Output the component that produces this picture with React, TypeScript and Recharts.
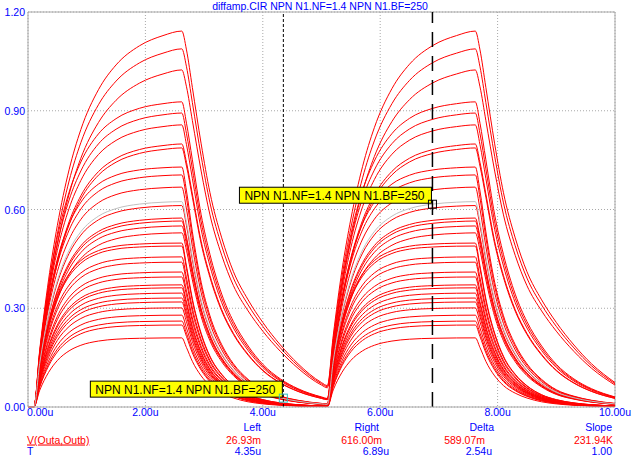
import { LineChart, Line, XAxis, YAxis, CartesianGrid, ReferenceLine, ReferenceDot } from "recharts";

// sample times (us)
const TIME = [
  0, 0.1, 0.2, 0.35, 0.5, 0.7, 0.9, 1.2, 1.5, 1.9, 2.3, 2.62,
  2.7, 2.8, 2.95, 3.1, 3.3, 3.5, 3.75, 4.0, 4.3, 4.6, 5.0, 5.1,
  5.2, 5.35, 5.5, 5.7, 5.9, 6.2, 6.5, 6.9, 7.3, 7.62,
  7.7, 7.8, 7.95, 8.1, 8.3, 8.5, 8.75, 9.0, 9.3, 9.6, 10.0,
];

// waveform shapes relative to the end-of-pulse level
const SHAPE_SLOW = [
  0, 0, 0.152, 0.338, 0.483, 0.631, 0.738, 0.844, 0.91, 0.961, 0.988, 1.0,
  0.95, 0.85, 0.7, 0.57, 0.45, 0.36, 0.285, 0.225, 0.165, 0.115, 0.065, 0.057,
  0.19, 0.365, 0.5, 0.64, 0.743, 0.847, 0.912, 0.962, 0.988, 1.0,
  0.95, 0.85, 0.7, 0.57, 0.45, 0.36, 0.285, 0.225, 0.165, 0.115, 0.065,
];
const SHAPE_MID = [
  0, 0, 0.182, 0.396, 0.555, 0.704, 0.803, 0.895, 0.945, 0.979, 0.994, 1.0,
  0.93, 0.81, 0.63, 0.5, 0.37, 0.28, 0.2, 0.14, 0.092, 0.06, 0.033, 0.028,
  0.205, 0.41, 0.565, 0.71, 0.806, 0.896, 0.946, 0.979, 0.994, 1.0,
  0.93, 0.81, 0.63, 0.5, 0.37, 0.28, 0.2, 0.14, 0.092, 0.06, 0.033,
];
const SHAPE_FAST = [
  0, 0, 0.213, 0.45, 0.616, 0.762, 0.853, 0.929, 0.966, 0.988, 0.997, 1.0,
  0.9, 0.73, 0.52, 0.38, 0.26, 0.18, 0.115, 0.072, 0.045, 0.028, 0.015, 0.013,
  0.223, 0.457, 0.62, 0.764, 0.854, 0.929, 0.966, 0.988, 0.997, 1.0,
  0.9, 0.73, 0.52, 0.38, 0.26, 0.18, 0.115, 0.072, 0.045, 0.028, 0.015,
];
const SHAPE_QUICK = [
  0, 0, 0.243, 0.5, 0.672, 0.812, 0.893, 0.954, 0.981, 0.994, 0.999, 1.0,
  0.86, 0.66, 0.45, 0.31, 0.2, 0.13, 0.075, 0.045, 0.025, 0.014, 0.007, 0.006,
  0.247, 0.503, 0.674, 0.813, 0.893, 0.954, 0.981, 0.994, 0.999, 1.0,
  0.86, 0.66, 0.45, 0.31, 0.2, 0.13, 0.075, 0.045, 0.025, 0.014, 0.007,
];

// end-of-pulse levels (V) of the stepped runs
const LEVELS_SLOW = [1.142, 1.088, 1.024];
const LEVELS_MID = [0.927, 0.893, 0.857, 0.799, 0.787];
const LEVELS_FAST = [0.729, 0.705, 0.668, 0.612, 0.574, 0.565, 0.55, 0.529];
const LEVELS_QUICK = [
  0.498, 0.489, 0.456, 0.44, 0.41, 0.395, 0.371, 0.362, 0.346, 0.331,
  0.319, 0.301, 0.279, 0.261, 0.249, 0.21,
];
const SELECTED_LEVEL = 0.624;

const X_TICKS = [0, 2, 4, 6, 8, 10];
const X_LABELS = ["0.00u", "2.00u", "4.00u", "6.00u", "8.00u", "10.00u"];
const Y_TICKS = [0, 0.3, 0.6, 0.9, 1.2];
const Y_LABELS = ["0.00", "0.30", "0.60", "0.90", "1.20"];

const LEFT_CURSOR = { t: 4.35, v: 0.02693 };
const RIGHT_CURSOR = { t: 6.89, v: 0.616 };
const TAG_TEXT = "NPN N1.NF=1.4 NPN N1.BF=250";

const series = [
  ...LEVELS_SLOW.map((level) => ({ level, shape: SHAPE_SLOW })),
  ...LEVELS_MID.map((level) => ({ level, shape: SHAPE_MID })),
  ...LEVELS_FAST.map((level) => ({ level, shape: SHAPE_FAST })),
  ...LEVELS_QUICK.map((level) => ({ level, shape: SHAPE_QUICK })),
];

const rows = TIME.map((t, i) => {
  const row: Record<string, number> = { t };
  series.forEach((s, k) => {
    row[`c${k}`] = s.level * s.shape[i];
  });
  row.sel = SELECTED_LEVEL * SHAPE_FAST[i];
  return row;
});

const FONT = "Arial, 'Liberation Sans', sans-serif";
const BLUE = "#0000ff";
const RED = "#ff0000";
const FRAME = "#a8a8a8";

const XTick = ({ x, y, index }: any) => (
  <text
    x={index === 0 ? x - 1 : x}
    y={y + 9}
    textAnchor={index === 0 ? "start" : "middle"}
    fill={BLUE}
    fontSize={10.5}
    fontFamily={FONT}
  >
    {X_LABELS[index]}
  </text>
);

const YTick = ({ x, y, index }: any) => (
  <text x={x} y={y + 4} textAnchor="end" fill={BLUE} fontSize={10.5} fontFamily={FONT}>
    {Y_LABELS[index]}
  </text>
);

const Tag = ({ cx, cy, marker }: any) => (
  <g>
    <rect x={cx - 193} y={cy - 17} width={192} height={16} fill="#ffff00" stroke="#000" />
    <text x={cx - 188} y={cy - 4.5} fontSize={12} fontFamily={FONT} fill="#000">
      {TAG_TEXT}
    </text>
    <rect x={cx - 4} y={cy - 4} width={8} height={8} fill="none" stroke={marker} />
  </g>
);

export default function App() {
  return (
    <div style={{ position: "relative", width: 640, height: 463, background: "#fff" }}>
      <style>{`body{margin:0}`}</style>
      <LineChart
        width={640}
        height={463}
        data={rows}
        margin={{ top: 12, right: 25, bottom: 36, left: 0 }}
      >
        <CartesianGrid stroke={FRAME} strokeDasharray="1 2" />
        <XAxis
          dataKey="t"
          type="number"
          domain={[0, 10]}
          ticks={X_TICKS}
          interval={0}
          height={20}
          tickLine={false}
          tickSize={0}
          tickMargin={0}
          axisLine={{ stroke: FRAME }}
          tick={<XTick />}
        />
        <YAxis
          type="number"
          domain={[0, 1.2]}
          ticks={Y_TICKS}
          interval={0}
          width={28}
          tickLine={false}
          tickSize={0}
          tickMargin={3}
          axisLine={{ stroke: FRAME }}
          tick={<YTick />}
        />
        <ReferenceLine y={1.2} stroke={FRAME} />
        <ReferenceLine x={10} stroke={FRAME} />
        {series.map((_, k) => (
          <Line
            key={k}
            dataKey={`c${k}`}
            type="monotone"
            stroke={RED}
            strokeWidth={1}
            dot={false}
            isAnimationActive={false}
          />
        ))}
        <Line
          dataKey="sel"
          type="monotone"
          stroke="#c0c0c0"
          strokeWidth={1}
          dot={false}
          isAnimationActive={false}
        />
        <ReferenceLine x={LEFT_CURSOR.t} stroke="#000" strokeDasharray="3 2" />
        <ReferenceLine x={RIGHT_CURSOR.t} stroke="#000" strokeWidth={1.5} strokeDasharray="15 9" />
        <ReferenceDot
          x={LEFT_CURSOR.t}
          y={LEFT_CURSOR.v}
          ifOverflow="visible"
          shape={(p: any) => <Tag {...p} marker="#30c0c0" />}
        />
        <ReferenceDot
          x={RIGHT_CURSOR.t}
          y={RIGHT_CURSOR.v}
          ifOverflow="visible"
          shape={(p: any) => <Tag {...p} marker="#000" />}
        />
      </LineChart>
      <svg
        width={640}
        height={463}
        style={{ position: "absolute", left: 0, top: 0, pointerEvents: "none" }}
        fontFamily={FONT}
        fontSize={10.5}
      >
        <text x={320} y={10} textAnchor="middle" fill={BLUE}>
          diffamp.CIR NPN N1.NF=1.4 NPN N1.BF=250
        </text>
        <text x={261} y={431} textAnchor="end" fill={BLUE}>Left</text>
        <text x={379} y={431} textAnchor="end" fill={BLUE}>Right</text>
        <text x={494} y={431} textAnchor="end" fill={BLUE}>Delta</text>
        <text x={612} y={431} textAnchor="end" fill={BLUE}>Slope</text>
        <text x={27} y={443.5} fill={RED} textDecoration="underline">V(Outa,Outb)</text>
        <text x={261} y={443.5} textAnchor="end" fill={RED}>26.93m</text>
        <text x={382} y={443.5} textAnchor="end" fill={RED}>616.00m</text>
        <text x={485} y={443.5} textAnchor="end" fill={RED}>589.07m</text>
        <text x={613} y={443.5} textAnchor="end" fill={RED}>231.94K</text>
        <text x={27} y={455} fill={BLUE}>T</text>
        <text x={261} y={455} textAnchor="end" fill={BLUE}>4.35u</text>
        <text x={389} y={455} textAnchor="end" fill={BLUE}>6.89u</text>
        <text x={492} y={455} textAnchor="end" fill={BLUE}>2.54u</text>
        <text x={612} y={455} textAnchor="end" fill={BLUE}>1.00</text>
      </svg>
    </div>
  );
}
